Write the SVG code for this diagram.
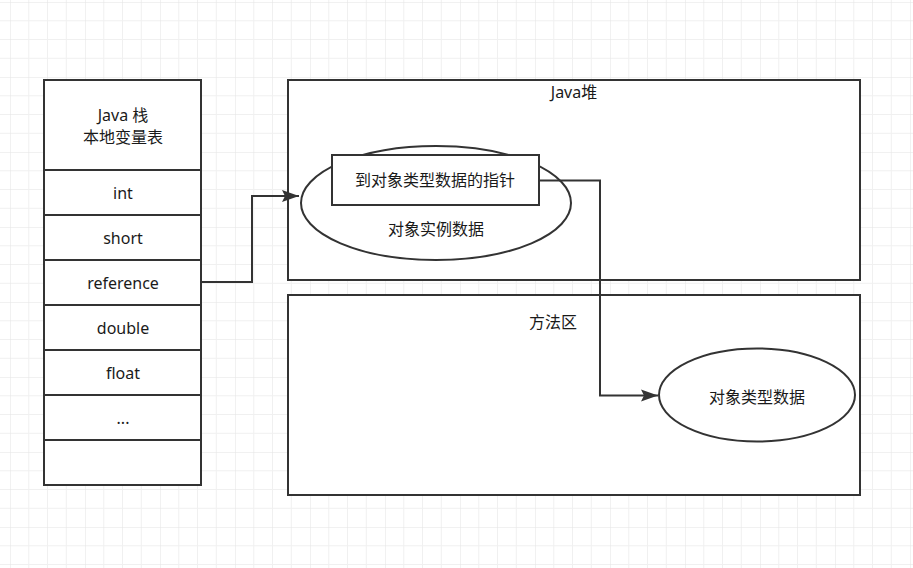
<svg xmlns="http://www.w3.org/2000/svg" width="913" height="568" viewBox="0 0 913 568">
<defs>
<pattern id="grid" x="10" y="2" width="75" height="75" patternUnits="userSpaceOnUse">
<path d="M18.75 0V75M37.5 0V75M56.25 0V75M0 18.75H75M0 37.5H75M0 56.25H75" stroke="#f0f0f0" stroke-width="1" fill="none"/>
<path d="M0 0V75M0 0H75" stroke="#e4e4e4" stroke-width="1" fill="none"/>
</pattern>
<marker id="arr" markerWidth="18" markerHeight="14" refX="17" refY="7" orient="auto" markerUnits="userSpaceOnUse">
<path d="M0,1 L17,7 L0,13 L3,7 Z" fill="#333"/>
</marker>
<style>
.box{fill:#fff;stroke:#333;stroke-width:2}
.t{font-family:"Noto Sans","Noto Sans CJK SC",sans-serif;font-size:16px;fill:#1a1a1a;text-anchor:middle}
.c{fill:none;stroke:#333;stroke-width:2}
</style>
</defs>
<rect width="913" height="568" fill="#fff"/>
<rect width="913" height="568" fill="url(#grid)"/>

<g id="java-stack">
<rect class="box" x="44" y="80" width="157" height="405"/>
<line class="c" x1="44" y1="170" x2="201" y2="170"/>
<line class="c" x1="44" y1="215" x2="201" y2="215"/>
<line class="c" x1="44" y1="260" x2="201" y2="260"/>
<line class="c" x1="44" y1="305" x2="201" y2="305"/>
<line class="c" x1="44" y1="350" x2="201" y2="350"/>
<line class="c" x1="44" y1="395" x2="201" y2="395"/>
<line class="c" x1="44" y1="440" x2="201" y2="440"/>
<text class="t" x="123" y="121">Java 栈</text>
<text class="t" x="123" y="143">本地变量表</text>
<text class="t" x="123" y="199">int</text>
<text class="t" x="123" y="244">short</text>
<text class="t" x="123" y="289">reference</text>
<text class="t" x="123" y="334">double</text>
<text class="t" x="123" y="379">float</text>
<text class="t" x="123" y="424">...</text>
</g>

<g id="java-heap">
<rect class="box" x="288" y="80" width="572" height="200"/>
<text class="t" x="574" y="98">Java堆</text>
</g>

<g id="method-area">
<rect class="box" x="288" y="295" width="572" height="200"/>
<text class="t" x="553" y="328">方法区</text>
</g>

<g id="instance-data">
<ellipse class="box" cx="436" cy="203" rx="135" ry="57"/>
<text class="t" x="436" y="235">对象实例数据</text>
</g>

<g id="type-pointer">
<rect class="box" x="332" y="155" width="207" height="50"/>
<text class="t" x="435" y="186">到对象类型数据的指针</text>
</g>

<g id="type-data">
<ellipse class="box" cx="757" cy="395" rx="98" ry="46.5"/>
<text class="t" x="757" y="403">对象类型数据</text>
</g>

<g id="connectors">
<path class="c" d="M201 282H252V196H299" marker-end="url(#arr)"/>
<path class="c" d="M539 180.5H600V395.5H658" marker-end="url(#arr)"/>
</g>
</svg>
